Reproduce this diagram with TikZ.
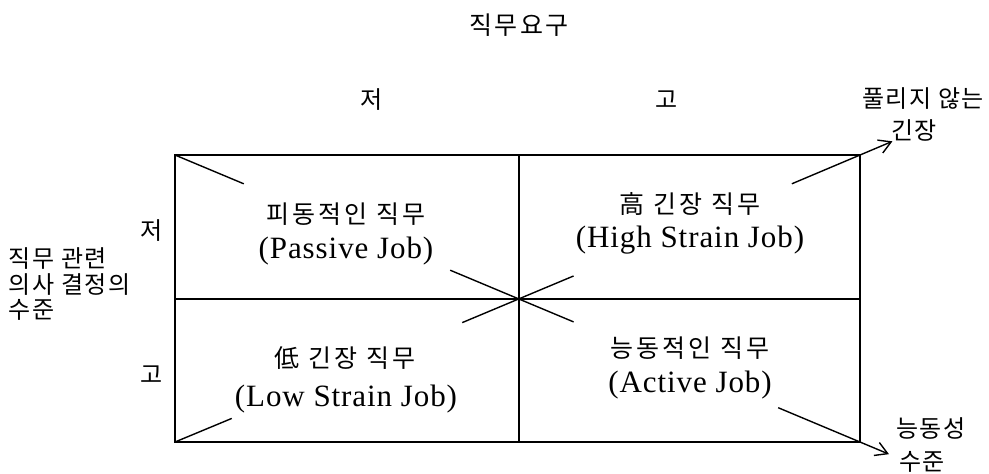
\documentclass[tikz,border=0pt]{standalone}
\usepackage{fontspec}
\setmainfont{Liberation Serif}
\newfontfamily\kr{Noto Sans CJK KR}
\usetikzlibrary{calc,arrows.meta}

\begin{document}
\begin{tikzpicture}[x=0.5pt, y=-0.5pt, line width=0.7pt,
    kor/.style={font=\kr\fontsize{12.5}{14}\selectfont\addfontfeature{LetterSpace=12}, inner sep=0pt},
    eng/.style={font=\fontsize{15.5}{17}\selectfont\addfontfeature{LetterSpace=3}, inner sep=0pt},
    side/.style={font=\kr\fontsize{12}{12.5}\selectfont\addfontfeature{LetterSpace=6}, inner sep=0pt},
    arr/.style={-{Straight Barb[length=6pt,width=7pt]}}]
	\useasboundingbox (0,0) rectangle (989,473);
	% frame
	\coordinate (tl) at (175,155);
	\coordinate (tr) at (860,155);
	\coordinate (bl) at (175,442);
	\coordinate (br) at (860,442);
	\coordinate (tm) at (519,155);
	\coordinate (bm) at (519,442);
	\coordinate (lm) at (175,299);
	\coordinate (rm) at (860,299);
	\coordinate (c) at (519,299);
	\draw (tl) rectangle (br);
	\draw (tm) -- (bm);
	\draw (lm) -- (rm);
	
	% diagonals
	\draw (tl) -- ($(tl)!0.2!(c)$);
	\draw ($(c)!0.2!(tl)$) -- ($(c)!0.16!(br)$);
	\draw (bl) -- ($(bl)!0.165!(c)$);
	\draw ($(c)!0.165!(bl)$) -- ($(c)!0.16!(tr)$);
	\draw[arr] ($(c)!0.8!(tr)$) -- ($(c)!1.095!(tr)$);
	\draw[arr] ($(c)!0.76!(br)$) -- ($(c)!1.085!(br)$);
	
	% quadrants
	\node[kor] (pk) at (346,214) {피동적인 직무};
	\node[eng] (pe) at (346,251) {(Passive Job)};
	\node[kor] (hk) at (690,204) {高 긴장 직무};
	\node[eng] (he) at (690,240) {(High Strain Job)};
	\node[kor] (lk) at (345,358) {低 긴장 직무};
	\node[eng] (le) at (346,399) {(Low Strain Job)};
	\node[kor] (ak) at (690,348) {능동적인 직무};
	\node[eng] (ae) at (690,385) {(Active Job)};
	
	% axes
	\node[side, font=\kr\fontsize{12.5}{13}\selectfont\addfontfeature{LetterSpace=10}] (demand) at (519,25) {직무요구};
	\node[side] (dlow) at (372,100) {저};
	\node[side] (dhigh) at (667,100) {고};
	\node[side] (clow) at (152,231) {저};
	\node[side] (chigh) at (152,375) {고};
	\node[side, align=left, anchor=west] (ctrl) at (8,284) {직무 관련\\[0.25pt]의사 결정의\\[0.25pt]수준};
	\node[side] (strain1) at (923,99) {풀리지 않는};
	\node[side] (strain2) at (914,130) {긴장};
	\node[side] (active1) at (931,428) {능동성};
	\node[side] (active2) at (922,462) {수준};
\end{tikzpicture}
\end{document}
